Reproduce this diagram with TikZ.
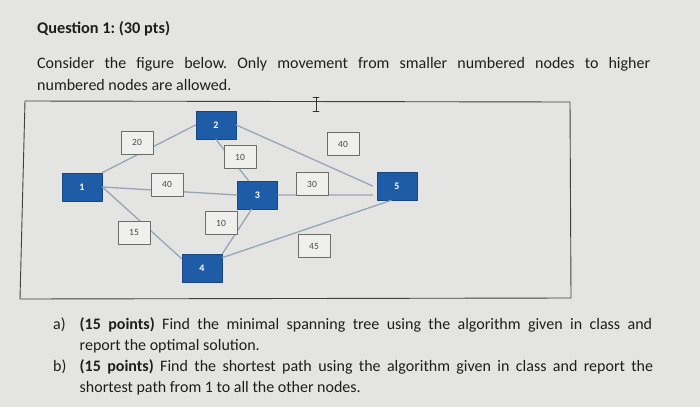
\documentclass[tikz,border=0pt]{standalone}
\usepackage{fontspec}
\setmainfont{Carlito}
\usetikzlibrary{positioning}
\frenchspacing
\definecolor{paper}{HTML}{E4E4E2}
\definecolor{vblue}{HTML}{1E5CA8}
\definecolor{vrim}{HTML}{174680}
\definecolor{link}{HTML}{97A5B6}
\definecolor{ink}{HTML}{1E1E1E}
\definecolor{wink}{HTML}{4A4A4A}
\tikzset{
	vtx/.style={draw=vrim, fill=vblue, line width=0.8pt, minimum width=40pt, minimum height=28pt, inner sep=0pt, text=white, font=\fontsize{10}{10}\selectfont\bfseries},
	wgt/.style={draw=gray!85!black, fill=paper!60!white, line width=0.8pt, minimum width=32pt, minimum height=23pt, inner sep=0pt, text=wink, font=\fontsize{9.5}{9.5}\selectfont},
	edge/.style={draw=link, line width=1.3pt},
	txt/.style={anchor=base west, inner sep=0pt, text=ink, font=\fontsize{16}{21}\selectfont}
}
\begin{document}
\begin{tikzpicture}[x=1pt, y=-1pt, line join=round, line cap=round]
	\def \W{700};\def \H{407};
	\fill[paper] (0,0) rectangle (\W,\H);
	\useasboundingbox (0,0) rectangle (\W,\H);
	\node[txt, font=\fontsize{16.3}{20}\selectfont\bfseries] (title) at (37,33) {Question 1: (30 pts)};
	\node[txt] (intro1) at (37,68) {\makebox[613pt][s]{Consider the figure below. Only movement from smaller numbered nodes to higher}};
	\node[txt] (intro2) at (37,90) {numbered nodes are allowed.};
	\draw[gray!50!black, line width=0.9pt] (25,101) -- (570,102) -- (571,298) -- (20,299) -- cycle;
	\draw[gray!40!black, line width=0.6pt] (313,97) -- (319,97) (316,97) -- (316,111) (313,111) -- (319,111);
	\foreach \n/\x/\y in {1/82/187, 2/216/125, 3/257.5/195, 4/202/268, 5/397/186}
		\node[vtx] (v\n) at (\x,\y) {\n};
	\draw[edge] (v1.north east) -- (v2.west) (v1.east) -- (v3.west) (v1.east) -- ([yshift=-5pt]v4.north west);
	\draw[edge] (v2.south) -- ([xshift=-9pt]v3.north) (v2.east) -- ([xshift=-4pt]v5.west);
	\draw[edge] (v3.east) -- ([xshift=-4pt]v3.east -| v5.west) ([xshift=-6pt]v3.south) -- (v4.north east);
	\draw[edge] ([yshift=-4pt]v4.north east) -- ([xshift=-6pt]v5.south);
	\foreach \w/\x/\y [count=\i] in {20/137/142.5, 40/167/184.5, 15/134/232.5, 10/240/157, 40/343/144, 30/312/184, 10/221/223, 45/314/246}
		\node[wgt] (w\i) at (\x,\y) {\w};
	\node[txt] (qa) at (53,329) {a)};
	\node[txt] (qa1) at (79.5,329) {\makebox[572.5pt][s]{\textbf{(15 points)} Find the minimal spanning tree using the algorithm given in class and}};
	\node[txt] (qa2) at (79.5,350) {report the optimal solution.};
	\node[txt] (qb) at (53,371) {b)};
	\node[txt] (qb1) at (79.5,371) {\makebox[573.5pt][s]{\textbf{(15 points)} Find the shortest path using the algorithm given in class and report the}};
	\node[txt] (qb2) at (79.5,392) {shortest path from 1 to all the other nodes.};
\end{tikzpicture}
\end{document}
